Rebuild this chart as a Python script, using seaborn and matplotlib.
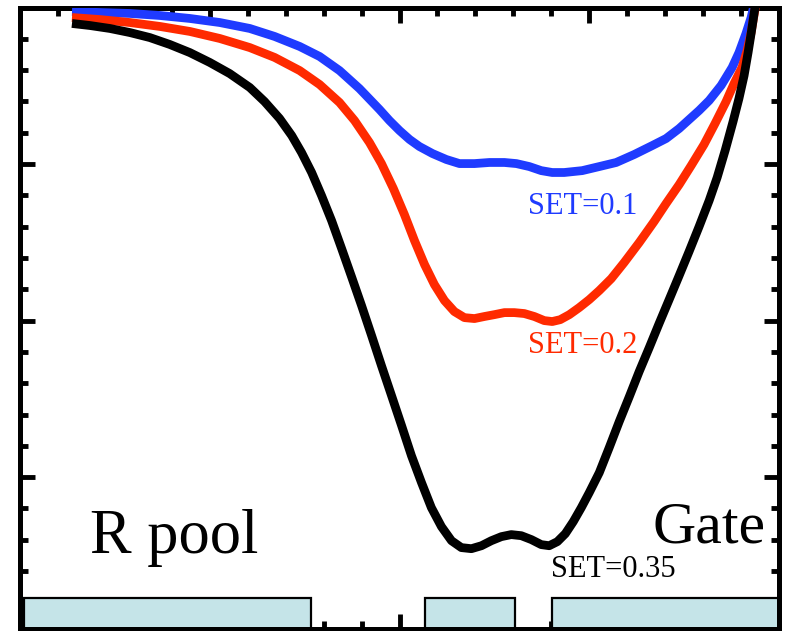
import matplotlib
matplotlib.use("Agg")
import matplotlib.pyplot as plt
from matplotlib.patches import Rectangle
from matplotlib.ticker import MultipleLocator
import seaborn as sns
import pandas as pd

# ---- data (x: position, y: potential, arbitrary units) ----
black_x = [2.74, 3.68, 4.74, 5.79, 6.84, 7.89, 8.95, 10.0, 11.05, 12.11, 12.89, 13.68, 14.32, 14.84,
           15.37, 15.89, 16.42, 16.95, 17.47, 18.0, 18.53, 19.05, 19.58, 20.11, 20.63, 21.16, 21.68,
           22.21, 22.74, 23.26, 23.79, 24.32, 24.84, 25.37, 25.89, 26.42, 26.95, 27.47, 27.89, 28.32,
           28.74, 29.16, 29.58, 30.0, 30.53, 31.05, 31.58, 32.11, 32.63, 33.16, 33.68, 34.21, 34.74,
           35.26, 35.79, 36.32, 36.74, 37.16, 37.58, 37.89, 38.16, 38.37, 38.53, 38.68, 38.79]
black_y = [-1.02, -1.15, -1.34, -1.60, -1.92, -2.36, -2.88, -3.51, -4.22, -5.11, -6.01, -7.09, -8.18,
           -9.27, -10.54, -12.01, -13.61, -15.40, -17.19, -19.04, -20.96, -22.88, -24.79, -26.71,
           -28.63, -30.35, -31.95, -33.16, -34.06, -34.50, -34.57, -34.38, -34.06, -33.80, -33.67,
           -33.74, -33.99, -34.31, -34.38, -34.12, -33.61, -32.84, -31.95, -30.99, -29.71, -28.12,
           -26.45, -24.86, -23.26, -21.73, -20.19, -18.66, -17.12, -15.59, -13.99, -12.33, -10.86,
           -9.14, -7.28, -5.81, -4.35, -2.88, -1.66, -0.45, 0.45]

red_x = [2.74, 4.21, 5.79, 7.37, 8.95, 10.53, 12.11, 13.42, 14.74, 15.79, 16.84, 17.63, 18.42, 19.05,
         19.68, 20.26, 20.79, 21.32, 21.84, 22.37, 22.89, 23.42, 23.95, 24.47, 25.0, 25.53, 26.05,
         26.58, 27.11, 27.63, 28.05, 28.47, 28.95, 29.47, 30.0, 30.53, 31.16, 31.84, 32.63, 33.42,
         34.05, 34.74, 35.37, 36.05, 36.63, 37.21, 37.63, 38.05, 38.32, 38.53, 38.68, 38.79]
red_y = [-0.64, -0.77, -0.96, -1.21, -1.53, -1.98, -2.56, -3.19, -4.03, -4.92, -6.07, -7.22, -8.63,
         -9.97, -11.57, -13.23, -14.89, -16.42, -17.70, -18.72, -19.42, -19.81, -19.87, -19.74, -19.62,
         -19.49, -19.49, -19.55, -19.74, -20.0, -20.06, -19.94, -19.62, -19.17, -18.66, -18.08, -17.32,
         -16.29, -15.02, -13.67, -12.52, -11.31, -10.10, -8.75, -7.41, -6.01, -4.86, -3.83, -2.75,
         -1.60, -0.51, 0.26]

blue_x = [2.74, 4.21, 5.79, 7.37, 8.95, 10.53, 12.11, 13.42, 14.74, 15.79, 16.84, 17.89, 18.95, 19.47,
          20.0, 20.53, 21.05, 21.74, 22.47, 23.16, 23.95, 24.74, 25.53, 26.16, 26.84, 27.47, 28.05,
          28.68, 29.63, 30.53, 31.42, 32.37, 33.32, 34.05, 34.74, 35.26, 35.79, 36.32, 36.95, 37.53,
          37.89, 38.26, 38.53, 38.68]
blue_y = [-0.26, -0.32, -0.38, -0.51, -0.70, -0.96, -1.34, -1.85, -2.49, -3.13, -4.03, -5.18, -6.52,
          -7.22, -7.86, -8.43, -8.88, -9.33, -9.71, -9.97, -9.97, -9.90, -9.90, -9.97, -10.16, -10.42,
          -10.54, -10.54, -10.42, -10.16, -9.90, -9.39, -8.82, -8.37, -7.73, -7.16, -6.58, -5.94,
          -4.98, -3.83, -2.88, -1.66, -0.64, 0.13]

series_labels = ["SET=0.1", "SET=0.2", "SET=0.35"]
series_colors = ["#1f3bff", "#ff2a00", "#000000"]

gate_start = [0.21, 21.32, 28.05]
gate_end = [15.32, 26.11, 40.0]
gate_top = -37.7

region_labels = ["R pool", "Gate"]

# ---- plotting ----
sns.set_style("white")
plt.rcParams["font.family"] = ["Liberation Serif", "DejaVu Serif"]

fig = plt.figure(figsize=(7.91, 6.31), dpi=100)
ax = fig.add_axes([20 / 791, 2 / 631, 759 / 791, 621.5 / 631])

df = pd.concat([
    pd.DataFrame({"x": blue_x, "y": blue_y, "s": series_labels[0]}),
    pd.DataFrame({"x": red_x, "y": red_y, "s": series_labels[1]}),
    pd.DataFrame({"x": black_x, "y": black_y, "s": series_labels[2]}),
])
sns.lineplot(data=df, x="x", y="y", hue="s", palette=dict(zip(series_labels, series_colors)),
             sort=False, estimator=None, linewidth=6.3, legend=False, ax=ax, zorder=3)
for ln in ax.get_lines():
    ln.set_solid_joinstyle("round")
    ln.set_solid_capstyle("butt")

for s, e in zip(gate_start, gate_end):
    ax.add_patch(Rectangle((s, -39.7), e - s, gate_top + 39.7, facecolor="#c5e4e8",
                           edgecolor="black", linewidth=1.6, zorder=2, clip_on=False))

ax.set_xlim(0, 40)
ax.set_ylim(-39.7, 0)
ax.set_axisbelow(True)

ax.xaxis.set_major_locator(MultipleLocator(10))
ax.xaxis.set_minor_locator(MultipleLocator(2))
ax.yaxis.set_major_locator(MultipleLocator(10))
ax.yaxis.set_minor_locator(MultipleLocator(2))
ax.tick_params(which="both", direction="in", top=True, right=True, bottom=True, left=True,
               labelbottom=False, labelleft=False, width=3.5, color="black")
ax.tick_params(which="major", length=11)
ax.tick_params(which="minor", length=5.5)
for sp in ax.spines.values():
    sp.set_visible(True)
    sp.set_linewidth(3.6)
    sp.set_color("black")
ax.set_xlabel("")
ax.set_ylabel("")

ax.text(26.79, -13.16, series_labels[0], color=series_colors[0], fontsize=22, ha="left", va="baseline")
ax.text(26.79, -22.04, series_labels[1], color=series_colors[1], fontsize=22, ha="left", va="baseline")
ax.text(28.0, -36.36, series_labels[2], color=series_colors[2], fontsize=22, ha="left", va="baseline")
ax.text(3.68, -34.82, region_labels[0], color="black", fontsize=45, ha="left", va="baseline")
ax.text(33.32, -34.19, region_labels[1], color="black", fontsize=43, ha="left", va="baseline")

fig.savefig("out.png", dpi=100)
